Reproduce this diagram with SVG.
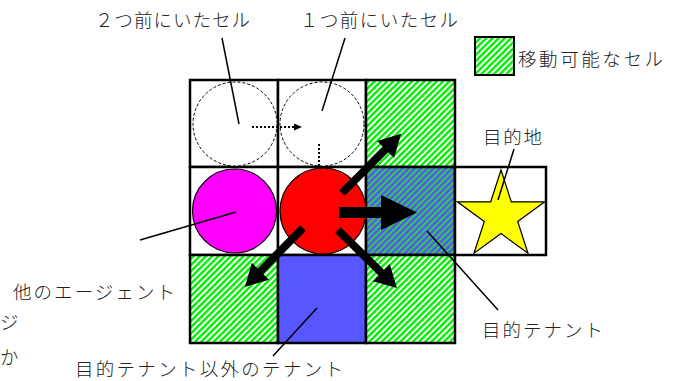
<svg xmlns="http://www.w3.org/2000/svg" width="677" height="381" viewBox="0 0 677 381">
<style>
.cell{stroke:#000;stroke-width:2.5;}
.lbl{font-family:"Liberation Serif","Noto Sans CJK JP",sans-serif;font-size:18.5px;fill:#222;font-weight:300;}
.lead{stroke:#000;stroke-width:1.5;fill:none;}
.dash{stroke:#000;stroke-width:1;stroke-dasharray:3,2;fill:#fff;}
.dot{stroke:#000;stroke-width:2;stroke-dasharray:2,2;fill:none;}
.thick{stroke:#000;fill:none;}
</style>
<defs>
<pattern id="hg" width="4.4" height="8" patternUnits="userSpaceOnUse" patternTransform="rotate(45)">
<rect width="4.4" height="8" fill="#fff"/>
<rect width="2.4" height="8" fill="#00ee00"/>
</pattern>
<pattern id="hb" width="4.4" height="8" patternUnits="userSpaceOnUse" patternTransform="rotate(45)">
<rect width="4.4" height="8" fill="#5555ff"/>
<rect width="2" height="8" fill="#33cc44"/>
</pattern>
<marker id="ah" markerUnits="userSpaceOnUse" markerWidth="24" markerHeight="26" refX="2" refY="12" orient="auto" overflow="visible">
<path d="M0,0 L22,12 L0,24 z" fill="#000"/>
</marker>
<marker id="ahBig" markerUnits="userSpaceOnUse" markerWidth="38" markerHeight="36" refX="2" refY="17.5" orient="auto" overflow="visible">
<path d="M0,0 L36,17.5 L0,35 z" fill="#000"/>
</marker>
<marker id="ahSm" markerUnits="userSpaceOnUse" markerWidth="10" markerHeight="8" refX="1" refY="3.5" orient="auto" overflow="visible">
<path d="M0,0 L8,3.5 L0,7 z" fill="#000"/>
</marker>
</defs>
<rect width="677" height="381" fill="#fff"/>

<g id="grid">
<rect id="c11" class="cell" x="190" y="80" width="88" height="87" fill="#fff"/>
<rect id="c12" class="cell" x="278" y="80" width="88" height="87" fill="#fff"/>
<rect id="c13" class="cell" x="366" y="80" width="89" height="87" fill="url(#hg)"/>
<rect id="c21" class="cell" x="190" y="167" width="88" height="88" fill="#fff"/>
<rect id="c22" class="cell" x="278" y="167" width="88" height="88" fill="#fff"/>
<rect id="c23" class="cell" x="366" y="167" width="89" height="88" fill="url(#hb)"/>
<rect id="c24" class="cell" x="455" y="167" width="91" height="88" fill="#fff"/>
<rect id="c31" class="cell" x="190" y="255" width="88" height="88" fill="url(#hg)"/>
<rect id="c32" class="cell" x="278" y="255" width="88" height="88" fill="#5757ff"/>
<rect id="c33" class="cell" x="366" y="255" width="89" height="88" fill="url(#hg)"/>
</g>

<g id="prev2">
<circle class="dash" cx="235" cy="124" r="42"/>
</g>
<g id="prev1">
<circle class="dash" cx="322" cy="124" r="42"/>
</g>

<g id="other-agent">
<circle cx="234.5" cy="211" r="42" fill="#ff00ff" stroke="#000" stroke-width="1.2"/>
</g>

<g id="trail">
<line class="dot" x1="319" y1="144" x2="319" y2="172"/>
<line class="dot" x1="252" y1="127" x2="295" y2="127" marker-end="url(#ahSm)"/>
</g>

<g id="agent">
<circle cx="323" cy="211" r="43" fill="#ff0000" stroke="#000" stroke-width="1.2"/>
</g>

<g id="goal">
<polygon points="501,170 511.3,201.8 544.7,201.8 517.7,221.4 528,253.2 501,233.6 474,253.2 484.3,221.4 457.3,201.8 490.7,201.8" fill="#ffff00" stroke="#000" stroke-width="1.2"/>
</g>

<g id="connectors">
<line class="thick" stroke-width="8" x1="342" y1="193" x2="387" y2="148" marker-end="url(#ah)"/>
<line class="thick" stroke-width="8" x1="303" y1="228" x2="259" y2="272.7" marker-end="url(#ah)"/>
<line class="thick" stroke-width="8" x1="338" y1="230" x2="382.7" y2="274" marker-end="url(#ah)"/>
<line class="thick" stroke-width="11" x1="339" y1="212.5" x2="383" y2="212.5" marker-end="url(#ahBig)"/>
<line class="lead" x1="222" y1="38" x2="239" y2="124"/>
<line class="lead" x1="345" y1="38" x2="322" y2="111"/>
<line class="lead" x1="140" y1="240" x2="236" y2="212"/>
<line class="lead" x1="514" y1="149" x2="498" y2="200"/>
<line class="lead" x1="427" y1="231" x2="498" y2="310"/>
<line class="lead" x1="317" y1="308" x2="273" y2="356"/>
</g>

<g id="legend">
<rect x="475" y="37" width="39" height="38" fill="url(#hg)" stroke="#000" stroke-width="2"/>
<text class="lbl" x="518" y="66" font-size="19" textLength="145" lengthAdjust="spacing">移動可能なセル</text>
</g>

<g id="labels">
<text class="lbl" x="95" y="27" textLength="155" lengthAdjust="spacing">２つ前にいたセル</text>
<text class="lbl" x="300" y="27" textLength="158" lengthAdjust="spacing">１つ前にいたセル</text>
<text class="lbl" x="483" y="144" textLength="59" lengthAdjust="spacing">目的地</text>
<text class="lbl" x="13" y="299" textLength="162" lengthAdjust="spacing">他のエージェント</text>
<text class="lbl" x="0" y="329" font-size="14">ジ</text>
<text class="lbl" x="0" y="364" font-size="14">か</text>
<text class="lbl" x="482" y="337" textLength="121" lengthAdjust="spacing">目的テナント</text>
<text class="lbl" x="75" y="376" textLength="268" lengthAdjust="spacing">目的テナント以外のテナント</text>
</g>
</svg>
